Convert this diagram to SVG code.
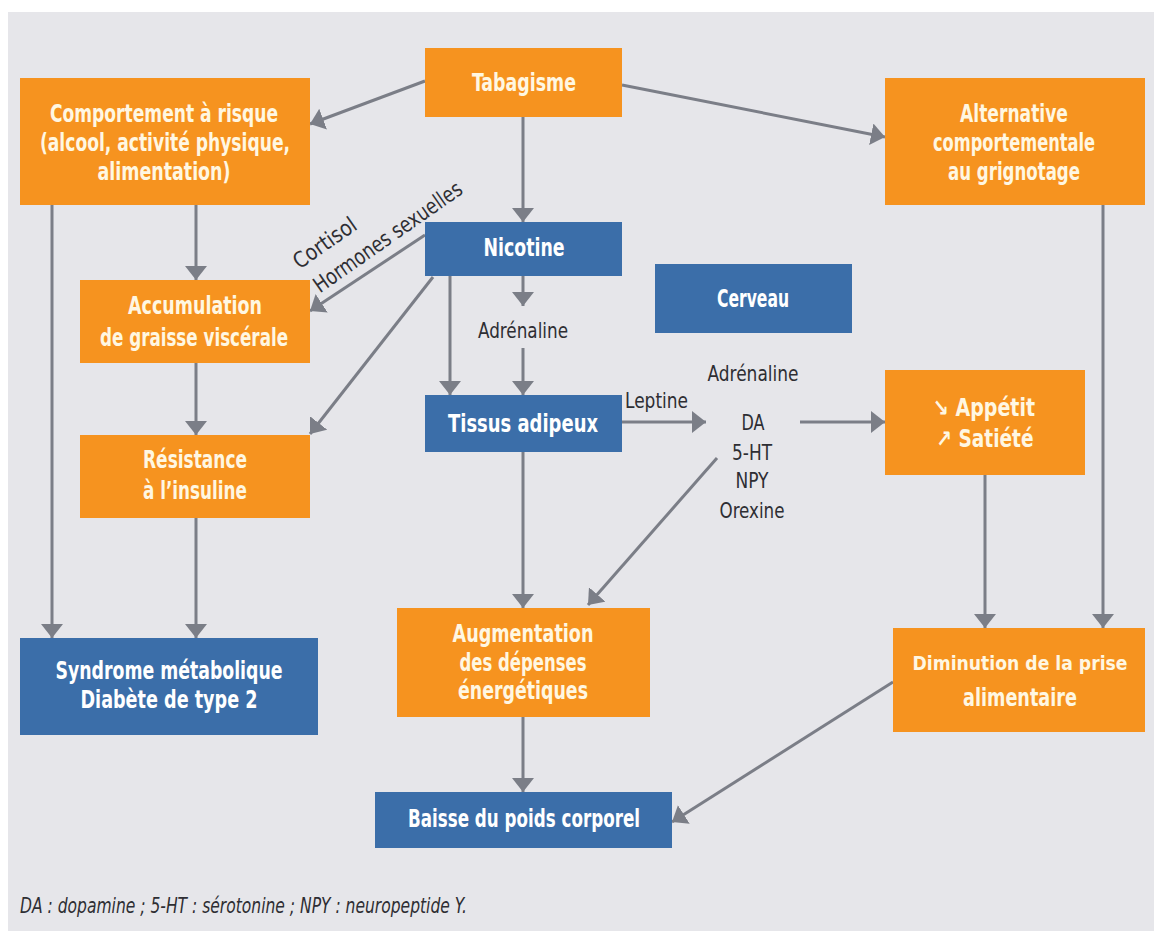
<svg xmlns="http://www.w3.org/2000/svg" width="1154" height="931" viewBox="0 0 1154 931">
  <style>
    .bo { fill: #f6931f; }
    .bb { fill: #3b6ea9; }
    .t  { font-family: "Liberation Sans Narrow", "DejaVu Sans Condensed", "Liberation Sans", sans-serif; font-stretch: condensed; font-weight: bold; font-size: 24px; text-anchor: middle; }
    .to { fill: #fff7e2; }
    .tb { fill: #ffffff; }
    .lab { font-family: "Liberation Sans Narrow", "DejaVu Sans Condensed", "Liberation Sans", sans-serif; font-stretch: condensed; font-size: 22px; fill: #2e2e33; text-anchor: middle; }
    .foot { font-family: "Liberation Sans Narrow", "DejaVu Sans Condensed", "Liberation Sans", sans-serif; font-stretch: condensed; font-style: italic; font-size: 21px; fill: #2e2e33; }
    .c { stroke: #7b7e87; stroke-width: 3; fill: none; marker-end: url(#ah); }
  </style>
  <defs>
    <marker id="ah" markerUnits="userSpaceOnUse" viewBox="0 0 14 22" refX="14" refY="11" markerWidth="14" markerHeight="22" orient="auto">
      <path d="M0,0 L14,11 L0,22 Z" fill="#7b7e87"/>
    </marker>
  </defs>

  <rect x="0" y="0" width="1154" height="931" fill="#ffffff"/>
  <rect x="8" y="12" width="1146" height="919" fill="#e6e6ea"/>

  <!-- connectors -->
  <g id="connectors">
    <path class="c" d="M425,81 L310,124"/>
    <path class="c" d="M622,85 L885,137"/>
    <path class="c" d="M523,117 L523,222"/>
    <path class="c" d="M52,205 L52,638"/>
    <path class="c" d="M196,205 L196,280"/>
    <path class="c" d="M196,363 L196,435"/>
    <path class="c" d="M196,518 L196,638"/>
    <path class="c" d="M425,235 L310,311"/>
    <path class="c" d="M433,277 L310,434"/>
    <path class="c" d="M450,276 L450,395"/>
    <path class="c" d="M523,276 L523,306"/>
    <path class="c" d="M523,348 L523,395"/>
    <path class="c" d="M622,422 L706,422"/>
    <path class="c" d="M800,422 L885,422"/>
    <path class="c" d="M523,452 L523,608"/>
    <path class="c" d="M717,458 L588,605"/>
    <path class="c" d="M523,717 L523,792"/>
    <path class="c" d="M985,475 L985,628"/>
    <path class="c" d="M1103,205 L1103,628"/>
    <path class="c" d="M893,682 L672,822"/>
  </g>

  <!-- edge labels -->
  <g id="labels">
    <text class="lab" transform="translate(329,249) rotate(-35)" textLength="72" lengthAdjust="spacingAndGlyphs">Cortisol</text>
    <text class="lab" transform="translate(392,243) rotate(-35)" textLength="176" lengthAdjust="spacingAndGlyphs">Hormones sexuelles</text>
    <text class="lab" x="523" y="338" textLength="90" lengthAdjust="spacingAndGlyphs">Adrénaline</text>
    <text class="lab" x="625" y="408" style="text-anchor:start" textLength="63" lengthAdjust="spacingAndGlyphs">Leptine</text>
    <text class="lab" x="753" y="381" textLength="91" lengthAdjust="spacingAndGlyphs">Adrénaline</text>
    <text class="lab" x="753" y="430" textLength="23" lengthAdjust="spacingAndGlyphs">DA</text>
    <text class="lab" x="752" y="460" textLength="40" lengthAdjust="spacingAndGlyphs">5-HT</text>
    <text class="lab" x="752" y="488" textLength="33" lengthAdjust="spacingAndGlyphs">NPY</text>
    <text class="lab" x="752" y="518" textLength="65" lengthAdjust="spacingAndGlyphs">Orexine</text>
  </g>

  <g id="tabagisme">
    <rect class="bo" x="425" y="48" width="197" height="69"/>
    <text class="t to" x="524" y="91" textLength="104" lengthAdjust="spacingAndGlyphs">Tabagisme</text>
  </g>

  <g id="comportement">
    <rect class="bo" x="20" y="78" width="290" height="127"/>
    <text class="t to" x="164" y="122" textLength="228" lengthAdjust="spacingAndGlyphs">Comportement à risque</text>
    <text class="t to" x="165" y="151" textLength="250" lengthAdjust="spacingAndGlyphs">(alcool, activité physique,</text>
    <text class="t to" x="164" y="180" textLength="133" lengthAdjust="spacingAndGlyphs">alimentation)</text>
  </g>

  <g id="alternative">
    <rect class="bo" x="885" y="78" width="260" height="127"/>
    <text class="t to" x="1014" y="122" textLength="108" lengthAdjust="spacingAndGlyphs">Alternative</text>
    <text class="t to" x="1014" y="151" textLength="162" lengthAdjust="spacingAndGlyphs">comportementale</text>
    <text class="t to" x="1014" y="180" textLength="132" lengthAdjust="spacingAndGlyphs">au grignotage</text>
  </g>

  <g id="nicotine">
    <rect class="bb" x="425" y="222" width="197" height="54"/>
    <text class="t tb" x="524" y="256" textLength="81" lengthAdjust="spacingAndGlyphs">Nicotine</text>
  </g>

  <g id="cerveau">
    <rect class="bb" x="655" y="264" width="197" height="69"/>
    <text class="t tb" x="753" y="307" textLength="72" lengthAdjust="spacingAndGlyphs">Cerveau</text>
  </g>

  <g id="accumulation">
    <rect class="bo" x="80" y="280" width="230" height="83"/>
    <text class="t to" x="195" y="314" textLength="134" lengthAdjust="spacingAndGlyphs">Accumulation</text>
    <text class="t to" x="194" y="346" textLength="188" lengthAdjust="spacingAndGlyphs">de graisse viscérale</text>
  </g>

  <g id="resistance">
    <rect class="bo" x="80" y="435" width="230" height="83"/>
    <text class="t to" x="195" y="468" textLength="104" lengthAdjust="spacingAndGlyphs">Résistance</text>
    <text class="t to" x="195" y="499" textLength="104" lengthAdjust="spacingAndGlyphs">à l’insuline</text>
  </g>

  <g id="tissus">
    <rect class="bb" x="425" y="395" width="197" height="57"/>
    <text class="t tb" x="523" y="432" textLength="150" lengthAdjust="spacingAndGlyphs">Tissus adipeux</text>
  </g>

  <g id="appetit">
    <rect class="bo" x="885" y="370" width="200" height="105"/>
    <text class="t to" x="984" y="416" textLength="102" lengthAdjust="spacingAndGlyphs">↘ Appétit</text>
    <text class="t to" x="985" y="447" textLength="97" lengthAdjust="spacingAndGlyphs">↗ Satiété</text>
  </g>

  <g id="syndrome">
    <rect class="bb" x="20" y="638" width="298" height="97"/>
    <text class="t tb" x="169" y="679" textLength="227" lengthAdjust="spacingAndGlyphs">Syndrome métabolique</text>
    <text class="t tb" x="169" y="708" textLength="177" lengthAdjust="spacingAndGlyphs">Diabète de type 2</text>
  </g>

  <g id="augmentation">
    <rect class="bo" x="397" y="608" width="253" height="109"/>
    <text class="t to" x="523" y="642" textLength="141" lengthAdjust="spacingAndGlyphs">Augmentation</text>
    <text class="t to" x="523" y="671" textLength="127" lengthAdjust="spacingAndGlyphs">des dépenses</text>
    <text class="t to" x="523" y="699" textLength="130" lengthAdjust="spacingAndGlyphs">énergétiques</text>
  </g>

  <g id="diminution">
    <rect class="bo" x="893" y="628" width="252" height="104"/>
    <text class="t to" x="1020" y="670" style="font-size:20px" textLength="215" lengthAdjust="spacingAndGlyphs">Diminution de la prise</text>
    <text class="t to" x="1020" y="706" textLength="114" lengthAdjust="spacingAndGlyphs">alimentaire</text>
  </g>

  <g id="baisse">
    <rect class="bb" x="375" y="792" width="297" height="56"/>
    <text class="t tb" x="524" y="827" textLength="232" lengthAdjust="spacingAndGlyphs">Baisse du poids corporel</text>
  </g>

  <text class="foot" x="20" y="913" textLength="447" lengthAdjust="spacingAndGlyphs">DA : dopamine ; 5-HT : sérotonine ; NPY : neuropeptide Y.</text>
</svg>
